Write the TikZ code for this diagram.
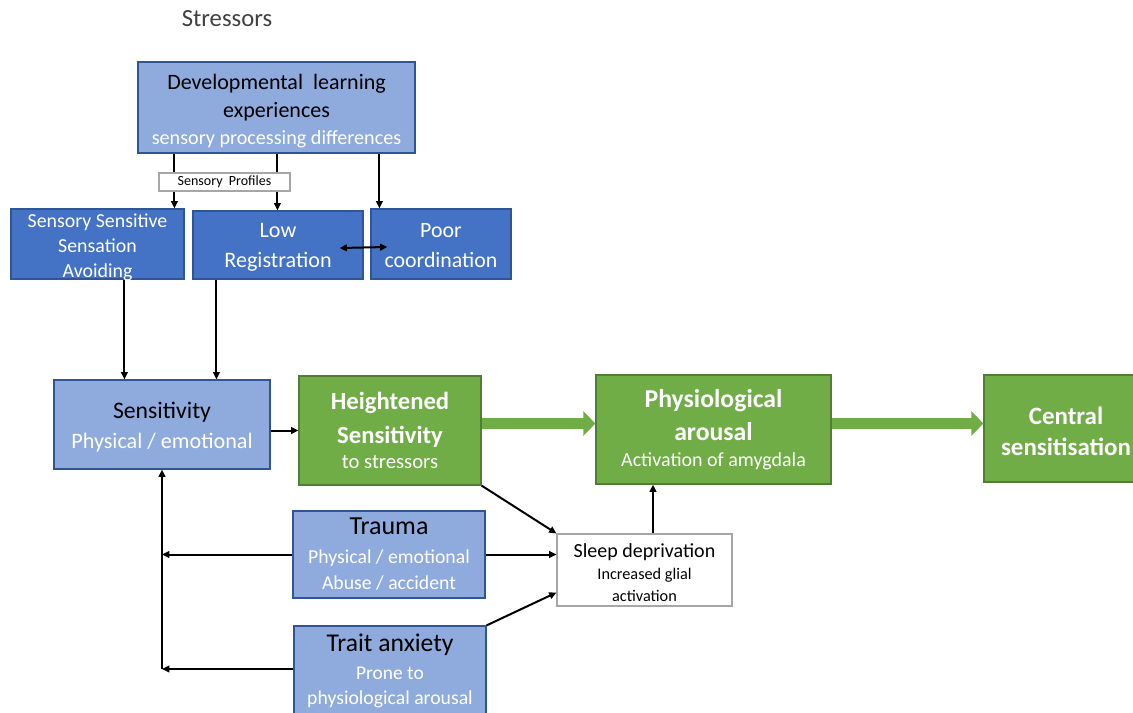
\documentclass[tikz,border=0pt]{standalone}
\usepackage{fontspec}
\setmainfont{Carlito}
\usetikzlibrary{arrows.meta,calc}
\definecolor{lblue}{HTML}{8FAADC}
\definecolor{dblue}{HTML}{4472C4}
\definecolor{bline}{HTML}{2F5597}
\definecolor{gfill}{HTML}{70AD47}
\definecolor{gline}{HTML}{507E32}
\definecolor{capgray}{HTML}{404040}
\newcommand{\fs}[2]{\fontsize{#1}{#2}\selectfont}
\newcommand{\sz}[1]{\fontsize{#1}{#1}\selectfont}
\begin{document}
\begin{tikzpicture}[x=0.75pt,y=-0.75pt,
  box/.style={draw=bline, line width=0.9pt, align=center, inner sep=0pt},
  light/.style={box, fill=lblue},
  dark/.style={box, fill=dblue, text=white},
  grn/.style={box, draw=gline, fill=gfill, text=white},
  plain/.style={draw=gray!70, line width=0.8pt, fill=white, align=center, inner sep=0pt},
  tl/.style={align=center, inner sep=0pt},
  sz/.style 2 args={minimum width=#1*0.75pt, minimum height=#2*0.75pt},
  arr/.style={-{Triangle[length=5.5pt,width=5pt]}, line width=1.5pt},
  dbl/.style={{Triangle[length=5.5pt,width=5pt]}-{Triangle[length=5.5pt,width=5pt]}, line width=1.5pt},
  fat/.style={-{Triangle[length=9pt,width=18pt]}, line width=8.5pt, draw=gfill}]
\useasboundingbox (0,0) rectangle (1133,713);

% title
\node[text=capgray, font=\fs{18.5}{20}] (stress) at (227,19) {Stressors};

% sensory processing part
\node[light, sz={277}{91}, label={[tl, name=devtext, text=black, font=\fs{16.5}{21}, yshift=-3pt]center:{Developmental\ \ learning\\experiences\\[-0.75pt]\color{white}\sz{15.1}sensory processing differences}}] (dev) at (276.5,107.5) {};
\node[dark, sz={173}{70}, label={[tl, name=ssstext, text=white, font=\fs{14.9}{18.75}, yshift=-2.25pt]center:{Sensory Sensitive\\Sensation\\Avoiding}}] (sss) at (97.5,244) {};
\node[dark, sz={170}{68}, label={[tl, name=lowtext, text=white, font=\fs{16.6}{22.5}, yshift=-1.5pt]center:{Low\\Registration}}] (lowreg) at (278,245) {};
\node[dark, sz={140}{70}, label={[tl, name=poortext, text=white, font=\fs{16.4}{22.5}, yshift=-1.5pt]center:{Poor\\coordination}}] (poor) at (441,244) {};

% main chain
\node[light, sz={216}{89}, label={[tl, name=senstext, text=black, font=\fs{17.8}{22.5}, yshift=-2.25pt]center:{Sensitivity\\\color{white}\sz{16.6}Physical / emotional}}] (sens) at (162,424.5) {};
\node[grn, sz={182}{109}, font=\fs{18.5}{25.5}\bfseries] (heighten) at (390,430.5)
  {Heightened\\Sensitivity\\[-6.5pt]\mdseries\sz{15.5}to stressors};
\node[grn, sz={235}{109}, font=\fs{19.3}{25}\bfseries] (physio) at (713.5,429.5)
  {Physiological\\arousal\\[-5.5pt]\mdseries\sz{15}Activation of amygdala};
\node[grn, sz={164}{107}, label={[tl, name=centtext, text=white, font=\fs{18.7}{23.5}\bfseries, yshift=-2pt]center:{Central\\sensitisation}}] (central) at (1066,428.5) {};

% contributing factors
\node[light, sz={192}{87}, font=\fs{19.5}{21.75}] (trauma) at (389,554.5)
  {Trauma\\\color{white}\sz{14.8}Physical / emotional\\[-2.25pt]\color{white}\sz{14.8}Abuse / accident};
\node[light, sz={192}{90}, font=\fs{19.2}{21}] (trait) at (390,671)
  {Trait anxiety\\\color{white}\sz{14.6}Prone to\\[-2.25pt]\color{white}\sz{14.8}physiological arousal};
\node[plain, sz={175}{72}, label={[tl, name=sleeptext, font=\fs{15}{17.25}, yshift=-2.25pt]center:{Sleep deprivation\\[-0.75pt]\sz{12.2}Increased glial\\[-0.75pt]\sz{12.2}activation}}] (sleep) at (644.5,570) {};

% profiles arrows
\draw[arr] ($(dev.south west)+(37,0)$) coordinate (d1) -- (d1 |- sss.north);
\draw[arr] ($(dev.south west)+(140,0)$) coordinate (d2) -- (d2 |- lowreg.north);
\draw[arr] ($(dev.south west)+(242,0)$) coordinate (d3) -- (d3 |- poor.north);
\node[plain, sz={131}{18}, font=\fs{10.5}{12}] (prof) at (224.5,182) {Sensory\ \ Profiles};
\draw[dbl] ($(lowreg.east)+(-24,3)$) -- ($(poor.west)+(17,3)$);

% into sensitivity
\draw[arr] ($(sss.south west)+(114,0)$) coordinate (s1) -- (s1 |- sens.north);
\draw[arr] ($(lowreg.south west)+(24,0)$) coordinate (s2) -- (s2 |- sens.north);

% main flow
\draw[arr] (sens.east |- heighten.west) -- (heighten.west);
\coordinate (fy) at (0,423.5);
\draw[fat] (heighten.east |- fy) -- (physio.west |- fy);
\draw[fat] (physio.east |- fy) -- (central.west |- fy);

% into sleep deprivation
\draw[arr] (heighten.south east) -- (sleep.north west);
\draw[arr] (trauma.east) -- (trauma.east -| sleep.west);
\draw[arr] (trait.north east) -- ($(sleep.south west)+(0,-14)$);
\draw[arr] ($(sleep.north)+(8.5,0)$) coordinate (up) -- (up |- physio.south);

% feedback to sensitivity
\coordinate (fb) at ($(trait.west -| sens.south)+(0,-2)$);
\draw[arr] (trauma.west) -- (trauma.west -| sens.south);
\draw[arr] ($(trait.west)+(0,-2)$) -- (fb);
\draw[arr] (fb) -- (sens.south);
\end{tikzpicture}
\end{document}
